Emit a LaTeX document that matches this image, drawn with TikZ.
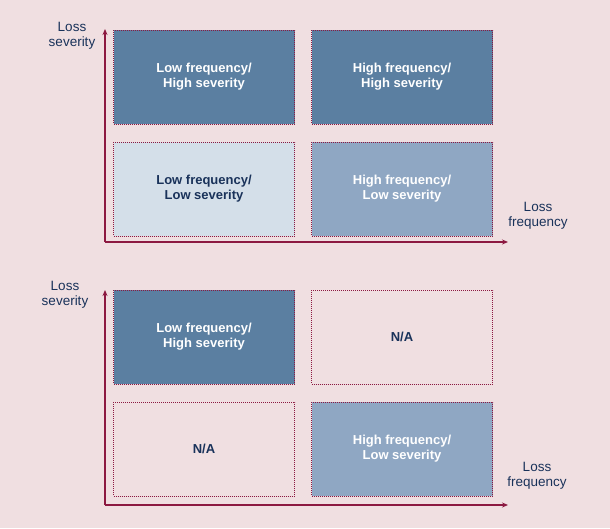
\documentclass[tikz,border=0pt]{standalone}
\usepackage{fontspec}
\setmainfont{Liberation Sans}
\usetikzlibrary{arrows.meta, positioning}
\definecolor{panelbg}{RGB}{240,223,225}
\definecolor{axiscolor}{RGB}{140,25,65}
\definecolor{textnavy}{RGB}{25,50,90}
\definecolor{darkblue}{RGB}{91,127,161}
\definecolor{midblue}{RGB}{143,167,195}
\definecolor{paleblue}{RGB}{212,223,233}

\begin{document}
\begin{tikzpicture}[
    x=1pt, y=-1pt,
    cell/.style={rectangle, draw=axiscolor, dash pattern=on 1pt off 1pt, line width=1pt,
                inner sep=0pt, minimum width=181pt, minimum height=94pt, align=center,
                font=\fontsize{13}{14.8}\selectfont\bfseries},
    darkcell/.style={cell, fill=darkblue, text=white},
    midcell/.style={cell, fill=midblue, text=white},
    palecell/.style={cell, fill=paleblue, text=textnavy},
    emptycell/.style={cell, text=textnavy},
    axislabel/.style={align=center, text=textnavy, inner sep=0pt,
                font=\fontsize{13.5}{15.3}\selectfont},
    axis/.style={-{Stealth[length=6pt, width=5pt]}, line width=1.3pt, color=axiscolor}
]
    \fill[panelbg] (0,0) rectangle (610,528);

    % upper matrix
    \node[darkcell] (lfhs) at (204,77) {Low frequency/\\High severity};
    \node[darkcell, right=16pt of lfhs] (hfhs) {High frequency/\\High severity};
    \node[palecell, below=17pt of lfhs] (lfls) {Low frequency/\\Low severity};
    \node[midcell, below=17pt of hfhs] (hfls) {High frequency/\\Low severity};

    \coordinate (origA) at (105,242);
    \coordinate (topA) at (105,29);
    \coordinate (endA) at (508,242);
    \draw[axis] (origA) -- (topA);
    \draw[axis] (origA) -- (endA);
    \node[axislabel] (sevA) at (72,36) {Loss\\severity};
    \node[axislabel] (freqA) at (538,216) {Loss\\frequency};

    % lower matrix
    \node[darkcell] (lfhsB) at (204,337) {Low frequency/\\High severity};
    \node[emptycell, right=16pt of lfhsB] (naTop) {N/A};
    \node[emptycell, below=17pt of lfhsB] (naBot) {N/A};
    \node[midcell, below=17pt of naTop] (hflsB) {High frequency/\\Low severity};

    \coordinate (origB) at (105,505);
    \coordinate (topB) at (105,290);
    \coordinate (endB) at (508,505);
    \draw[axis] (origB) -- (topB);
    \draw[axis] (origB) -- (endB);
    \node[axislabel] (sevB) at (65,295) {Loss\\severity};
    \node[axislabel] (freqB) at (537,476) {Loss\\frequency};
\end{tikzpicture}
\end{document}
